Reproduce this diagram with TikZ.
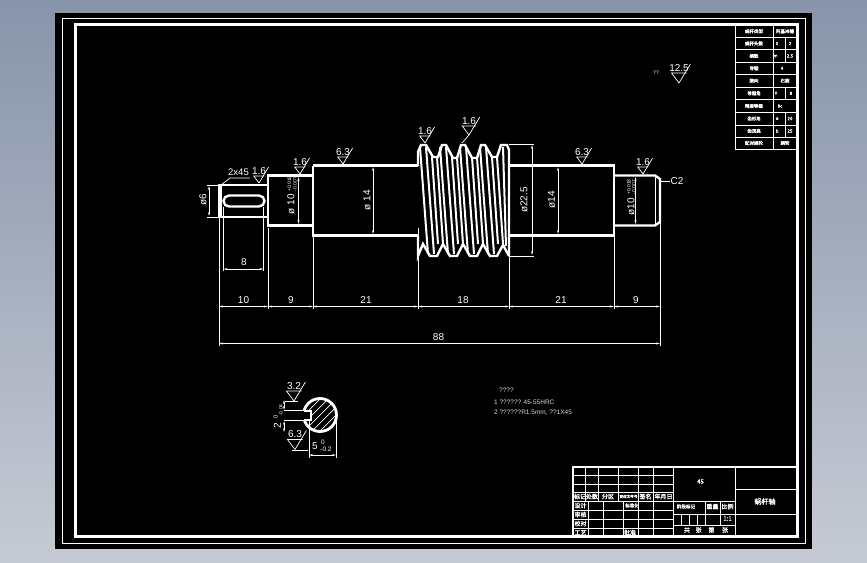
\documentclass[tikz,border=0pt]{standalone}
\usepackage{fontspec}
\setmainfont{Liberation Sans}
\newfontfamily\cjk[FakeBold=1.6]{Noto Sans CJK SC}
\usetikzlibrary{arrows.meta,calc}

% one roughness mark: tip x, tip y, height, value
\newcommand{\roughmark}[4]{
    \draw[thinline] (#1,#2) -- ({#1-0.75*#3},{#2-#3}) -- ({#1+0.75*#3},{#2-#3});
    \draw[thinline] (#1,#2) -- ({#1+0.6*(#3+9)},{#2-#3-9});
    \node[label] (R#1) at (#1,{#2-#3-5}) {#4};
}

\begin{document}
\begin{tikzpicture}[x=1pt, y=-1pt,
                    thinline/.style={white, line width=0.7pt},
                    thickline/.style={white, line width=2.4pt, line join=miter},
                    thread/.style={white, line width=2pt},
                    frame/.style={white, line width=2.6pt},
                    dim/.style={white, line width=0.7pt, {Stealth[length=4pt,width=2pt]}-{Stealth[length=4pt,width=2pt]}},
                    label/.style={text=white, font=\fontsize{10}{10}\selectfont, inner sep=0pt},
                    small/.style={text=white, font=\fontsize{5}{5}\selectfont, inner sep=0pt},
                    note/.style={text=white!85!black, font=\fontsize{6.5}{7}\selectfont, inner sep=0pt, anchor=west},
                    cell/.style={text=white, font=\cjk\fontsize{6}{6}\selectfont, inner sep=0pt},
                    tiny/.style={text=white, font=\cjk\fontsize{4.5}{5}\selectfont, inner sep=0pt}]

% Background
\shade[top color={rgb,255:red,136;green,148;blue,170}, bottom color={rgb,255:red,198;green,202;blue,212}] (0,0) rectangle (867,562);
\useasboundingbox (0,0) rectangle (867,562);
\fill[black] (55,13) rectangle (812,549);

% Frames
\draw[white, line width=1pt] (62.5,18.5) rectangle (805,543.5);
\draw[frame] (75.5,24.5) rectangle (797.5,536.5);

% Shaft
\draw[thickline] (219,185) rectangle (268,217);
\draw[white, line width=2.5pt] (221,185) -- (221,217);
\draw[thickline, rounded corners=5.5pt] (223.5,195.5) rectangle (264.5,206.5);
\draw[thickline] (268,175.5) rectangle (313,225.5);
\draw[thickline] (313,165.5) -- (418,165.5);
\draw[thickline] (313,165.5) -- (313,235.5) -- (418,235.5);
\draw[thickline] (509,165.5) -- (614,165.5) -- (614,235.5) -- (509,235.5);
\draw[thickline] (614,175.5) -- (655,175.5) -- (660,179) -- (660,222) -- (655,225.5) -- (614,225.5);
\draw[white, line width=1.6pt] (655.5,175.5) -- (655.5,225.5);

% Worm
\draw[thread, line width=2.4pt] (418,166) -- (418,152) -- (421,145) -- (426,145) -- (433,157) -- (438,157)
    -- (442,145) -- (446,145) -- (453,158) -- (457,158) -- (461,145) -- (465,145) -- (472,158) -- (477,158)
    -- (481,145) -- (485,145) -- (492,157) -- (497,157) -- (501,145) -- (507,145) -- (509,150) -- (509,254);
\draw[thread, line width=2.4pt] (418,235) -- (418,256) -- (423,244) -- (430,256) -- (437,256) -- (443,244) -- (450,256) -- (457,256)
    -- (463,244) -- (470,256) -- (477,256) -- (483,244) -- (490,256) -- (497,256) -- (503,245) -- (509,256);
\foreach \c in {423,443,463,483} {
    \draw[thread] ({\c-3},147) -- ({\c+5},254);
    \draw[thread] ({\c+3},147) -- ({\c+11},254);
    \draw[thread] ({\c+9},157) -- ({\c+15},244);
    \draw[thread] ({\c+14},157) -- ({\c+20},244);
}
\draw[thread] (503,147) -- (506,246);

% Extension lines down to the length dimensions
\foreach \x in {268,313,418,509,614} {
    \draw[thinline] (\x,228) -- (\x,309);
}
\draw[thinline] (219,217) -- (219,346);
\draw[thinline] (660,222) -- (660,346);
\draw[thinline] (223.5,207) -- (223.5,271);
\draw[thinline] (263.5,207) -- (263.5,271);

% Length dimensions
\draw[dim] (219,306.5) -- (268,306.5);
\draw[dim] (268,306.5) -- (313,306.5);
\draw[dim] (313,306.5) -- (418,306.5);
\draw[dim] (418,306.5) -- (509,306.5);
\draw[dim] (509,306.5) -- (614,306.5);
\draw[dim] (614,306.5) -- (660,306.5);
\draw[dim] (219,343.5) -- (660,343.5);
\draw[dim] (223.5,269) -- (263.5,269);
\node[label] (len10) at (243.5,300) {10};
\node[label] (len9a) at (291,300) {9};
\node[label] (len21a) at (366,300) {21};
\node[label] (len18) at (463,300) {18};
\node[label] (len21b) at (561,300) {21};
\node[label] (len9b) at (636,300) {9};
\node[label] (total) at (438.5,337.5) {88};
\node[label] (keylen) at (244,262.5) {8};

% Diameter dimensions
\draw[thinline] (207,185) -- (219,185);
\draw[thinline] (207,217) -- (219,217);
\draw[dim] (209,186) -- (209,216);
\draw[dim] (298.5,177) -- (298.5,224);
\draw[dim] (373,167) -- (373,234);
\draw[thinline] (509,144) -- (534,144);
\draw[thinline] (509,256) -- (534,256);
\draw[dim] (532,145) -- (532,255);
\draw[dim] (558,167) -- (558,234);
\draw[dim] (635.5,177) -- (635.5,224);
\node[label, rotate=90] (dia6) at (203,200) {ø6};
\node[label, rotate=90] (dia10a) at (291,204) {ø 10};
\node[small, rotate=90] (tol10a) at (289.5,184) {+0.018};
\node[small, rotate=90] (tol10b) at (295,184) {-0.007};
\node[label, rotate=90] (dia14a) at (367,200) {ø 14};
\node[label, rotate=90] (dia225) at (524,200) {ø22.5};
\node[label, rotate=90] (dia14b) at (551.5,200) {ø14};
\node[label, rotate=90] (dia10b) at (631,207) {ø10};
\node[small, rotate=90] (tol10c) at (629,187) {+0.018};
\node[small, rotate=90] (tol10d) at (634,187) {-0.007};

% Chamfers
\draw[thinline] (221,185) -- (230,178) -- (250,178);
\node[label, font=\fontsize{9.5}{10}\selectfont] (cham) at (238.5,172.5) {2x45};
\draw[thinline] (660,181) -- (670,181);
\node[label] (c2) at (677,181) {C2};

% Roughness
\roughmark{259}{183}{7}{1.6}
\roughmark{300}{174}{7}{1.6}
\roughmark{343}{164}{7}{6.3}
\roughmark{425}{143}{7}{1.6}
\roughmark{469}{135}{9}{1.6}
\draw[thinline] (469,135) -- (462,143);
\roughmark{582}{164}{7}{6.3}
\roughmark{643}{174}{7}{1.6}
\roughmark{679}{83}{10}{12.5}
\node[small] (other) at (656,73) {??};

% Section view
\begin{scope}
    \clip (320,415) circle (16);
    \foreach \d in {-24,-16,...,24} {
        \draw[thinline] ({320+\d-20},435) -- ({320+\d+20},395);
    }
\end{scope}
\draw[white, line width=2.8pt] (320,415) circle (16.5);
\fill[black] (301,411) rectangle (311,420);
\draw[white, line width=1.6pt] (304,411) -- (311,411) -- (311,420) -- (304,420);
\draw[thinline] (284,410.5) -- (304,410.5);
\draw[thinline] (284,420.5) -- (304,420.5);
\draw[dim] (284,400) -- (284,410);
\draw[dim] (284,432) -- (284,421);
\draw[thinline] (309,420) -- (309,458);
\draw[thinline] (336,416) -- (336,458);
\draw[dim] (309,455) -- (336,455);
\node[label, rotate=90] (key2) at (277.5,426) {2};
\node[small, font=\fontsize{6}{6}\selectfont, rotate=90] (key0) at (275.5,417) {0};
\node[small, rotate=90] (keytol) at (281,410) {-0.04};
\node[label] (key5) at (315,446) {5};
\node[small, font=\fontsize{6.5}{7}\selectfont] (wid0) at (323,442) {0};
\node[small, font=\fontsize{6.5}{7}\selectfont] (widtol) at (326,449.5) {-0.2};
\roughmark{294}{401}{10}{3.2}
\draw[thinline] (285,401.5) -- (298,401.5);
\roughmark{295}{449.5}{10}{6.3}
\draw[thinline] (292,450) -- (308,450);

% Notes
\node[note] (title) at (499,390) {????};
\node[note] (note1) at (494,402) {1 ?????? 45-55HRC};
\node[note] (note2) at (494,412.5) {2 ??????R1.5mm, ??1X45};

% Title block
\draw[frame] (573,467) rectangle (797.5,536.5);
\draw[thinline] (573,475.7) -- (673.3,475.7);
\draw[thinline] (573,484) -- (673.3,484);
\draw[thinline] (573,492.7) -- (673.3,492.7);
\draw[thinline] (573,501.7) -- (673.3,501.7);
\draw[thinline] (573,510.7) -- (673.3,510.7);
\draw[thinline] (573,519.3) -- (673.3,519.3);
\draw[thinline] (573,528.3) -- (673.3,528.3);
\foreach \x in {585,598.3,618.3,638.3,653.3} {
    \draw[thinline] (\x,467) -- (\x,501.7);
}
\foreach \x in {588.3,603.3,623.3,638.3,653.3} {
    \draw[thinline] (\x,501.7) -- (\x,536.5);
}
\draw[thinline] (673.3,467) -- (673.3,536.5);
\draw[thinline] (735,467) -- (735,536.5);
\draw[thinline] (673.3,501.7) -- (735,501.7);
\draw[thinline] (735,489.3) -- (797.5,489.3);
\draw[thinline] (673.3,514.3) -- (797.5,514.3);
\draw[thinline] (673.3,525) -- (735,525);
\draw[thinline] (705,501.7) -- (705,525);
\draw[thinline] (720,501.7) -- (720,525);
\foreach \x in {681.7,689.3,697.3} {
    \draw[thinline] (\x,514.3) -- (\x,525);
}
\node[cell] (mat) at (700.5,481.5) {45};
\node[cell, font=\cjk\fontsize{7}{7}\selectfont] (part) at (765,501.5) {蜗杆轴};
\node[cell] (t1) at (580,496.5) {标记};
\node[cell] (t2) at (592,496.5) {处数};
\node[cell] (t3) at (608,496.5) {分区};
\node[cell, font=\cjk\fontsize{3.6}{4}\selectfont] (t4) at (628.5,496.5) {更改文件号};
\node[cell] (t5) at (645.5,496.5) {签名};
\node[cell] (t6) at (663.5,496.5) {年月日};
\node[cell] (t7) at (580.5,505.5) {设计};
\node[cell, font=\cjk\fontsize{4.5}{5}\selectfont] (t8) at (632,505.5) {标准化};
\node[cell] (t9) at (580.5,514.5) {审核};
\node[cell] (t10) at (580.5,523.5) {校对};
\node[cell] (t11) at (580.5,532.5) {工艺};
\node[cell] (t12) at (630,532.5) {批准};
\node[cell, font=\cjk\fontsize{4.6}{5}\selectfont] (t13) at (686,506.5) {阶段标记};
\node[cell] (t14) at (712.5,506.5) {重量};
\node[cell] (t15) at (727.5,506.5) {比例};
\node[cell] (t16) at (727.5,518.5) {1:1};
\node[cell] (t17) at (687,530) {共};
\node[cell] (t18) at (698.5,530) {张};
\node[cell] (t19) at (711.5,530) {第};
\node[cell] (t20) at (725,530) {张};

% Worm data table
\draw[thinline] (735.7,25) rectangle (796.5,149.3);
\foreach \y in {37.3,49.7,62.3,74.3,87,99.7,112.3,125,137} {
    \draw[thinline] (735.7,\y) -- (796.5,\y);
}
\draw[thinline] (773.3,25) -- (773.3,149.3);
\draw[thinline] (785.7,37.3) -- (785.7,62.3);
\draw[thinline] (785.7,87) -- (785.7,99.7);
\draw[thinline] (785.7,112.3) -- (785.7,137);
\node[tiny] (w1) at (754,31.3) {蜗杆类型};
\node[tiny] (w2) at (754,43.5) {蜗杆头数};
\node[tiny] (w3) at (754,56) {模数};
\node[tiny] (w4) at (754,68.3) {导程};
\node[tiny] (w5) at (754,80.6) {旋向};
\node[tiny] (w6) at (754,93.3) {导程角};
\node[tiny] (w7) at (754,106) {精度等级};
\node[tiny] (w8) at (754,118.6) {齿形角};
\node[tiny] (w9) at (754,131) {齿顶高};
\node[tiny] (w10) at (754,143) {配对蜗轮};
\node[tiny] (v1) at (785,31.3) {阿基米德};
\node[tiny] (v2a) at (777,43.5) {z};
\node[tiny] (v2b) at (790,43.5) {2};
\node[tiny] (v3a) at (775.5,56) {m};
\node[tiny] (v3b) at (790,56) {2.5};
\node[tiny] (v4) at (782,68.3) {4};
\node[tiny] (v5) at (785,80.6) {右旋};
\node[tiny] (v6a) at (776,93.3) {γ};
\node[tiny] (v6b) at (791,93.3) {8};
\node[tiny] (v7) at (780,106) {8c};
\node[tiny] (v8a) at (777,118.6) {α};
\node[tiny] (v8b) at (790,118.6) {20};
\node[tiny] (v9a) at (777,131) {h};
\node[tiny] (v9b) at (790,131) {25};
\node[tiny] (v10) at (785,143) {蜗轮};

\end{tikzpicture}
\end{document}
